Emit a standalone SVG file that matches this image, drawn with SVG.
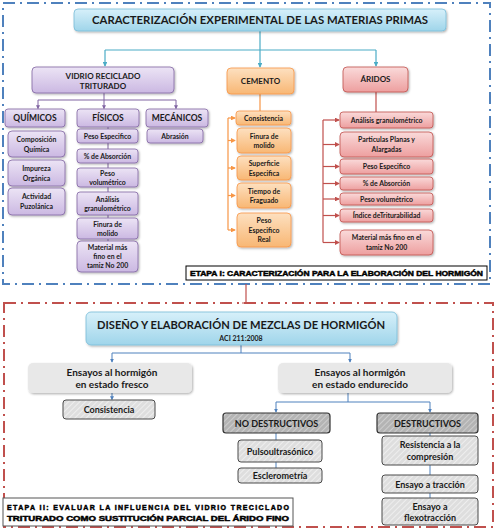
<svg xmlns="http://www.w3.org/2000/svg" width="496" height="529" viewBox="0 0 496 529">
<defs>
<linearGradient id="gBlue" x1="0" y1="0" x2="0" y2="1"><stop offset="0" stop-color="#d7f0fa"/><stop offset="1" stop-color="#9fd5ea"/></linearGradient>
<linearGradient id="gPur" x1="0" y1="0" x2="0" y2="1"><stop offset="0" stop-color="#ece4f5"/><stop offset="1" stop-color="#cbb8e2"/></linearGradient>
<linearGradient id="gOra" x1="0" y1="0" x2="0" y2="1"><stop offset="0" stop-color="#fde0c0"/><stop offset="1" stop-color="#f8b774"/></linearGradient>
<linearGradient id="gRed" x1="0" y1="0" x2="0" y2="1"><stop offset="0" stop-color="#fadada"/><stop offset="1" stop-color="#ed9f9f"/></linearGradient>
<pattern id="hatch" width="4" height="4" patternUnits="userSpaceOnUse" patternTransform="rotate(45)"><rect width="4" height="4" fill="#dedede"/><line x1="0" y1="0" x2="0" y2="4" stroke="#f4f4f4" stroke-width="1.5"/></pattern>
<pattern id="hatchD" width="4" height="4" patternUnits="userSpaceOnUse" patternTransform="rotate(45)"><rect width="4" height="4" fill="#b4b4b4"/><line x1="0" y1="0" x2="0" y2="4" stroke="#d6d6d6" stroke-width="1.5"/></pattern>
<filter id="sh" x="-10%" y="-20%" width="125%" height="150%"><feDropShadow dx="1" dy="1.2" stdDeviation="0.8" flood-color="#000" flood-opacity="0.3"/></filter>
<marker id="aT" viewBox="0 0 6 6" refX="5" refY="3" markerWidth="4" markerHeight="4" orient="auto"><path d="M0,0 L6,3 L0,6 z" fill="#4bacc6"/></marker>
<marker id="aP" viewBox="0 0 6 6" refX="5" refY="3" markerWidth="4" markerHeight="4" orient="auto"><path d="M0,0 L6,3 L0,6 z" fill="#8064a2"/></marker>
<marker id="aO" viewBox="0 0 6 6" refX="5" refY="3" markerWidth="4" markerHeight="4" orient="auto"><path d="M0,0 L6,3 L0,6 z" fill="#f79646"/></marker>
<marker id="aR" viewBox="0 0 6 6" refX="5" refY="3" markerWidth="4" markerHeight="4" orient="auto"><path d="M0,0 L6,3 L0,6 z" fill="#c0504d"/></marker>
<marker id="aB" viewBox="0 0 6 6" refX="5" refY="3" markerWidth="4" markerHeight="4" orient="auto"><path d="M0,0 L6,3 L0,6 z" fill="#4f81bd"/></marker>
</defs>
<style>
.t{font-family:Lato,"Open Sans","Liberation Sans",sans-serif;font-weight:bold;text-anchor:middle;fill:#1a1a1a}
.s6{font-size:6.9px}
.s7{font-size:8.5px}
.s9{font-size:9px}
.s8{font-size:8px}
.blue{fill:url(#gBlue);stroke:#79bdd8;stroke-width:0.8}
.pur{fill:url(#gPur);stroke:#8064a2;stroke-width:0.8}
.ora{fill:url(#gOra);stroke:#f79646;stroke-width:0.8}
.red{fill:url(#gRed);stroke:#c0504d;stroke-width:0.8}
.gry{fill:#e8e8e8;stroke:none}
.hat{fill:url(#hatch);stroke:#4a4a4a;stroke-width:1}
.hatd{fill:url(#hatchD);stroke:#333;stroke-width:1.2}
.et{font-family:"Liberation Sans",Arial,sans-serif;font-weight:900;fill:#000;stroke:#000;stroke-width:0.45;font-size:7px}
.cT{stroke:#4bacc6;stroke-width:1.2;fill:none}
.cP{stroke:#8064a2;stroke-width:1;fill:none}
.cO{stroke:#f79646;stroke-width:1.2;fill:none}
.cR{stroke:#c0504d;stroke-width:1.2;fill:none}
.cB{stroke:#4f81bd;stroke-width:1;fill:none}
</style>
<rect width="496" height="529" fill="#fff"/>
<rect x="3" y="3" width="487" height="281" fill="none" stroke="#4f81bd" stroke-width="2" stroke-dasharray="12 5 2 5"/>
<rect x="4" y="303" width="489" height="224" fill="none" stroke="#c0504d" stroke-width="2" stroke-dasharray="12 5 2 5"/>
<g id="connectors">
<path class="cT" d="M260,31 V50 M105,50 H376"/>
<path class="cT" d="M105,50 V66" marker-end="url(#aT)"/>
<path class="cT" d="M260,50 V67" marker-end="url(#aT)"/>
<path class="cT" d="M376,50 V66" marker-end="url(#aT)"/>
<path class="cP" d="M104,93 V100 M38,100 H176"/>
<path class="cP" d="M38,100 V108.5" marker-end="url(#aP)"/>
<path class="cP" d="M104,100 V108.5" marker-end="url(#aP)"/>
<path class="cP" d="M176,100 V108.5" marker-end="url(#aP)"/>
<path class="cP" d="M108,127 V129 M108,143 V149 M108,163 V168 M108,187 V192 M108,215 V218 M108,239 V241"/>
<path class="cO" d="M260,94 V111 M228,118 V230"/>
<path class="cO" d="M228,118 H235" marker-end="url(#aO)"/>
<path class="cO" d="M228,140.5 H235" marker-end="url(#aO)"/>
<path class="cO" d="M228,168 H235" marker-end="url(#aO)"/>
<path class="cO" d="M228,195.5 H235" marker-end="url(#aO)"/>
<path class="cO" d="M228,230 H235" marker-end="url(#aO)"/>
<path class="cR" d="M376,92 V112 M323,120 V242.5"/>
<path class="cR" d="M323,120 H339" marker-end="url(#aR)"/>
<path class="cR" d="M323,144.5 H339" marker-end="url(#aR)"/>
<path class="cR" d="M323,166.5 H339" marker-end="url(#aR)"/>
<path class="cR" d="M323,183.5 H339" marker-end="url(#aR)"/>
<path class="cR" d="M323,199 H339" marker-end="url(#aR)"/>
<path class="cR" d="M323,215.5 H339" marker-end="url(#aR)"/>
<path class="cR" d="M323,242.5 H339" marker-end="url(#aR)"/>
<path class="cR" d="M246,284 V303 M242,303 H250"/>
<path class="cB" d="M241,345 V353 M112,353 H350"/>
<path class="cB" d="M112,353 V362" marker-end="url(#aB)"/>
<path class="cB" d="M350,353 V362" marker-end="url(#aB)"/>
<path class="cB" d="M112,393 V399.5" marker-end="url(#aB)"/>
<path class="cB" d="M348,393 V402 M276,402 H430"/>
<path class="cB" d="M276,402 V412" marker-end="url(#aB)"/>
<path class="cB" d="M430,402 V412" marker-end="url(#aB)"/>
<path class="cB" d="M276,433 V440 M276,462 V468 M430,433 V436 M430,465 V475 M430,493 V498"/>
</g>
<g id="title"><rect class="blue" x="74" y="9" width="372" height="22" rx="4" filter="url(#sh)"/><text class="t" x="260" y="24" font-size="10.5" textLength="336" lengthAdjust="spacingAndGlyphs">CARACTERIZACIÓN EXPERIMENTAL DE LAS MATERIAS PRIMAS</text></g>
<g id="vidrio"><rect class="pur" x="32" y="67" width="142" height="26" rx="4" filter="url(#sh)"/><text class="t s8" x="103" y="78.5">VIDRIO RECICLADO</text><text class="t s8" x="103" y="89">TRITURADO</text></g>
<g id="cemento"><rect class="ora" x="227" y="68" width="67" height="26" rx="4" filter="url(#sh)"/><text class="t s8" x="260.5" y="84">CEMENTO</text></g>
<g id="aridos"><rect class="red" x="343" y="67" width="65" height="25" rx="4" filter="url(#sh)"/><text class="t s8" x="375.5" y="82">ÁRIDOS</text></g>
<g id="quimicos"><rect class="pur" x="5" y="109" width="60" height="18" rx="3" filter="url(#sh)"/><text class="t s7" x="35" y="121">QUÍMICOS</text></g>
<g id="fisicos"><rect class="pur" x="77" y="109" width="62" height="18" rx="3" filter="url(#sh)"/><text class="t s7" x="108" y="121">FÍSICOS</text></g>
<g id="mecanicos"><rect class="pur" x="146" y="109" width="62" height="18" rx="3" filter="url(#sh)"/><text class="t s7" x="177" y="121">MECÁNICOS</text></g>
<g id="q1"><rect class="pur" x="8" y="131" width="57" height="26" rx="4" filter="url(#sh)"/><text class="t s6" x="36.5" y="142">Composición</text><text class="t s6" x="36.5" y="151.5">Química</text></g>
<g id="q2"><rect class="pur" x="8" y="160" width="57" height="26" rx="4" filter="url(#sh)"/><text class="t s6" x="36.5" y="171">Impureza</text><text class="t s6" x="36.5" y="180.5">Orgánica</text></g>
<g id="q3"><rect class="pur" x="8" y="188" width="57" height="27" rx="4" filter="url(#sh)"/><text class="t s6" x="36.5" y="199">Actividad</text><text class="t s6" x="36.5" y="208.5">Puzolánica</text></g>
<g id="f1"><rect class="pur" x="77" y="129" width="61" height="14" rx="3" filter="url(#sh)"/><text class="t s6" x="107.5" y="138.5">Peso Especifico</text></g>
<g id="f2"><rect class="pur" x="77" y="149" width="61" height="14" rx="3" filter="url(#sh)"/><text class="t s6" x="107.5" y="158.5">% de Absorción</text></g>
<g id="f3"><rect class="pur" x="77" y="168" width="61" height="19" rx="3" filter="url(#sh)"/><text class="t s6" x="107.5" y="176">Peso</text><text class="t s6" x="107.5" y="184.5">volumétrico</text></g>
<g id="f4"><rect class="pur" x="77" y="192" width="61" height="23" rx="3" filter="url(#sh)"/><text class="t s6" x="107.5" y="201.5">Análisis</text><text class="t s6" x="107.5" y="210.5">granulométrico</text></g>
<g id="f5"><rect class="pur" x="77" y="218" width="61" height="21" rx="3" filter="url(#sh)"/><text class="t s6" x="107.5" y="226.5">Finura de</text><text class="t s6" x="107.5" y="235.5">molido</text></g>
<g id="f6"><rect class="pur" x="77" y="241" width="61" height="31" rx="4" filter="url(#sh)"/><text class="t s6" x="107.5" y="250">Material más</text><text class="t s6" x="107.5" y="258.8">fino en el</text><text class="t s6" x="107.5" y="267.5">tamiz No 200</text></g>
<g id="m1"><rect class="pur" x="147" y="129" width="56" height="14" rx="3" filter="url(#sh)"/><text class="t s6" x="175" y="138.5">Abrasión</text></g>
<g id="c1"><rect class="ora" x="236" y="111" width="55" height="14" rx="3" filter="url(#sh)"/><text class="t s6" x="263.5" y="120.5">Consistencia</text></g>
<g id="c2"><rect class="ora" x="237" y="128" width="54" height="25" rx="4" filter="url(#sh)"/><text class="t s6" x="264" y="138.5">Finura de</text><text class="t s6" x="264" y="148">molido</text></g>
<g id="c3"><rect class="ora" x="237" y="156" width="54" height="24" rx="4" filter="url(#sh)"/><text class="t s6" x="264" y="166">Superficie</text><text class="t s6" x="264" y="175.5">Especifica</text></g>
<g id="c4"><rect class="ora" x="237" y="183" width="54" height="25" rx="4" filter="url(#sh)"/><text class="t s6" x="264" y="193.5">Tiempo de</text><text class="t s6" x="264" y="203">Fraguado</text></g>
<g id="c5"><rect class="ora" x="237" y="213" width="54" height="34" rx="4" filter="url(#sh)"/><text class="t s6" x="264" y="223">Peso</text><text class="t s6" x="264" y="232.5">Especifico</text><text class="t s6" x="264" y="242">Real</text></g>
<g id="a1"><rect class="red" x="340" y="112" width="93" height="16" rx="3" filter="url(#sh)"/><text class="t s6" x="386.5" y="122.5">Análisis granulométrico</text></g>
<g id="a2"><rect class="red" x="340" y="132" width="93" height="25" rx="4" filter="url(#sh)"/><text class="t s6" x="386.5" y="142">Particulas Planas y</text><text class="t s6" x="386.5" y="151.5">Alargadas</text></g>
<g id="a3"><rect class="red" x="340" y="159" width="93" height="15" rx="3" filter="url(#sh)"/><text class="t s6" x="386.5" y="169">Peso Especifico</text></g>
<g id="a4"><rect class="red" x="340" y="177" width="93" height="13" rx="3" filter="url(#sh)"/><text class="t s6" x="386.5" y="186">% de Absorción</text></g>
<g id="a5"><rect class="red" x="340" y="193" width="93" height="12" rx="3" filter="url(#sh)"/><text class="t s6" x="386.5" y="201.6">Peso volumétrico</text></g>
<g id="a6"><rect class="red" x="340" y="209" width="93" height="13" rx="3" filter="url(#sh)"/><text class="t s6" x="386.5" y="218">Índice deTriturabilidad</text></g>
<g id="a7"><rect class="red" x="340" y="230" width="93" height="25" rx="4" filter="url(#sh)"/><text class="t s6" x="386.5" y="240">Material más fino en el</text><text class="t s6" x="386.5" y="250">tamiz No 200</text></g>
<g id="etapa1"><rect x="186" y="266" width="301" height="14" fill="#fff" stroke="#000" stroke-width="1"/><text class="et" x="190" y="276" textLength="293" lengthAdjust="spacingAndGlyphs">ETAPA I: CARACTERIZACIÓN PARA LA ELABORACIÓN DEL HORMIGÓN</text></g>
<g id="diseno"><rect class="blue" x="86" y="312" width="311" height="33" rx="5" filter="url(#sh)"/><text class="t" x="241" y="329" font-size="10.5" textLength="288" lengthAdjust="spacingAndGlyphs">DISEÑO Y ELABORACIÓN DE MEZCLAS DE HORMIGÓN</text><text class="t" x="241" y="341" font-size="7">ACI 211:2008</text></g>
<g id="fresco"><rect class="gry" x="28" y="363" width="164" height="30" rx="5" filter="url(#sh)"/><text class="t" x="112" y="375.5" font-size="10">Ensayos al hormigón</text><text class="t" x="112" y="388" font-size="10">en estado fresco</text></g>
<g id="endurecido"><rect class="gry" x="278" y="363" width="174" height="30" rx="5" filter="url(#sh)"/><text class="t" x="360" y="375.5" font-size="10">Ensayos al hormigón</text><text class="t" x="360" y="388" font-size="10">en estado endurecido</text></g>
<g id="consistencia2"><rect class="hat" x="63" y="400" width="92" height="19" rx="3"/><text class="t s9" x="109" y="413">Consistencia</text></g>
<g id="nodest"><rect class="hatd" x="223" y="413" width="107" height="20" rx="3"/><text class="t s9" x="276.5" y="426.5">NO DESTRUCTIVOS</text></g>
<g id="dest"><rect class="hatd" x="377" y="413" width="101" height="20" rx="3"/><text class="t s9" x="427.5" y="426.5">DESTRUCTIVOS</text></g>
<g id="pulso"><rect class="hat" x="238" y="440" width="84" height="22" rx="3"/><text class="t s9" x="280" y="454.5">Pulsoultrasónico</text></g>
<g id="esclero"><rect class="hat" x="238" y="468" width="84" height="15" rx="3"/><text class="t s9" x="280" y="479">Esclerometría</text></g>
<g id="resist"><rect class="hat" x="382" y="436" width="96" height="29" rx="3"/><text class="t s9" x="430" y="448">Resistencia a la</text><text class="t s9" x="430" y="459.5">compresión</text></g>
<g id="traccion"><rect class="hat" x="382" y="475" width="96" height="18" rx="3"/><text class="t s9" x="430" y="487.5">Ensayo a tracción</text></g>
<g id="flexo"><rect class="hat" x="382" y="498" width="96" height="27" rx="3"/><text class="t s9" x="430" y="509.5">Ensayo a</text><text class="t s9" x="430" y="521">flexotracción</text></g>
<g id="etapa2"><rect x="3" y="498" width="290" height="28" fill="#fff" stroke="#555" stroke-width="1"/><text class="et" x="7" y="509.5" textLength="282" lengthAdjust="spacing" font-size="7.5">ETAPA II: EVALUAR LA INFLUENCIA DEL VIDRIO TRECICLADO</text><text class="et" x="7" y="521" textLength="282" lengthAdjust="spacingAndGlyphs" font-size="7.5">TRITURADO COMO SUSTITUCIÓN PARCIAL DEL ÁRIDO FINO</text></g>
</svg>
